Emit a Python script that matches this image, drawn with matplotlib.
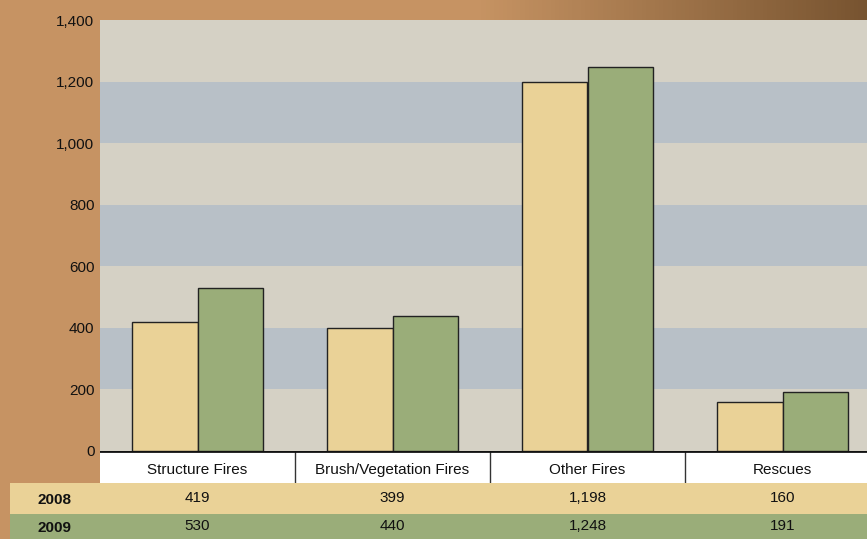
import numpy as np
import matplotlib
matplotlib.use('Agg')
import matplotlib.pyplot as plt
from matplotlib.transforms import blended_transform_factory

categories = ['Structure Fires', 'Brush/Vegetation Fires', 'Other Fires', 'Rescues']
years = ['2008', '2009']
values_2008 = [419, 399, 1198, 160]
values_2009 = [530, 440, 1248, 191]
yticks = [0, 200, 400, 600, 800, 1000, 1200, 1400]

color_2008 = '#EAD297'
color_2009 = '#9AAD79'
band_light = '#D5D1C5'
band_blue = '#B8C0C7'

plt.rcParams['font.family'] = ['Liberation Sans Narrow', 'Liberation Sans', 'DejaVu Sans']

W, H = 867, 539
fig = plt.figure(figsize=(W / 100, H / 100), dpi=100)


def px(x0, y0, x1, y1):
    # pixel box -> figure fraction rect
    return [x0 / W, 1 - y1 / H, (x1 - x0) / W, (y1 - y0) / H]


# brown wooden background
bg = fig.add_axes([0, 0, 1, 1], zorder=-10)
gx = np.linspace(0, 1, 200)
t = np.clip((gx - 0.55) / 0.45, 0, 1)
tan = np.array([0.78, 0.58, 0.39])
dark = np.array([0.47, 0.33, 0.19])
grad = (1 - t)[:, None] * tan + t[:, None] * dark
bg.imshow(np.tile(grad[None, :, :], (20, 1, 1)), aspect='auto', extent=[0, 1, 0, 1])
bg.axis('off')

# main bar chart
ax = fig.add_axes(px(100, 20, W, 451))
x = np.arange(len(categories))
xmax = -0.5 + (W - 100) / 195
ax.set_xlim(-0.5, xmax)
ax.set_ylim(0, 1400)
for i, (lo, hi) in enumerate(zip(yticks[:-1], yticks[1:])):
    ax.axhspan(lo, hi, color=band_light if i % 2 == 0 else band_blue, zorder=0, lw=0)

w = 0.338
ax.bar(x - w / 2, values_2008, w, color=color_2008, edgecolor='#222222', linewidth=1, zorder=3)
ax.bar(x + w / 2, values_2009, w, color=color_2009, edgecolor='#222222', linewidth=1, zorder=3)

ax.set_yticks(yticks)
ax.set_yticklabels(['{:,}'.format(v) for v in yticks], fontsize=11, color='#111111')
ax.tick_params(axis='y', length=0, pad=4)
ax.set_xticks([])
for s in ax.spines.values():
    s.set_visible(False)

# category label strip
cax = fig.add_axes(px(100, 451, W, 483))
cax.set_xlim(ax.get_xlim())
cax.set_ylim(0, 1)
cax.set_facecolor('white')
for i, name in enumerate(categories):
    cax.text(i, 0.42, name, ha='center', va='center', fontsize=11, color='#111111')
    if i > 0:
        cax.axvline(i - 0.5, color='#333333', lw=1)
cax.axhline(1, color='#111111', lw=2)
cax.set_xticks([])
cax.set_yticks([])
for s in cax.spines.values():
    s.set_visible(False)

# data table rows
rows = [('2008', values_2008, color_2008, (483, 514)),
        ('2009', values_2009, color_2009, (514, 539))]
for year, vals, col, (y0, y1) in rows:
    rax = fig.add_axes(px(10, y0, W, y1))
    rax.set_facecolor(col)
    rax.set_xticks([])
    rax.set_yticks([])
    for s in rax.spines.values():
        s.set_visible(False)
    rax.text(27 / (W - 10), 0.45, year, transform=rax.transAxes, ha='left', va='center',
             fontsize=11, fontweight='bold', color='#111111')
    trans = blended_transform_factory(ax.transData, rax.transAxes)
    for i, v in enumerate(vals):
        rax.text(i, 0.5, '{:,}'.format(v), transform=trans, ha='center', va='center',
                 fontsize=11, color='#111111')

fig.savefig('out.png', dpi=100)
